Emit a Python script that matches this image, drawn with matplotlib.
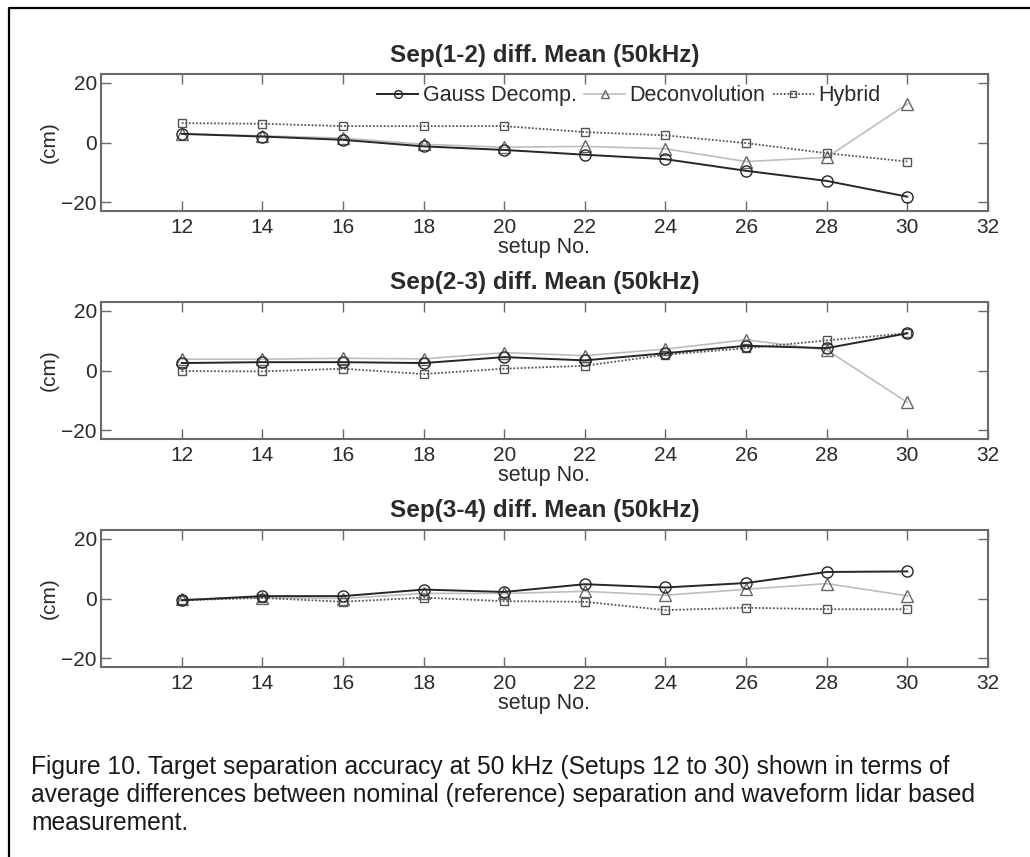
import matplotlib
matplotlib.use("Agg")
import matplotlib.pyplot as plt
from matplotlib.lines import Line2D

plt.rcParams['font.family'] = ['Liberation Sans', 'DejaVu Sans']

setups = [12, 14, 16, 18, 20, 22, 24, 26, 28, 30]
xtick_vals = [12, 14, 16, 18, 20, 22, 24, 26, 28, 30, 32]
ytick_vals = [-20, 0, 20]

titles = ["Sep(1-2) diff. Mean (50kHz)",
          "Sep(2-3) diff. Mean (50kHz)",
          "Sep(3-4) diff. Mean (50kHz)"]

gauss_12 = [2.9, 2.0, 0.9, -1.3, -2.5, -4.1, -5.6, -9.5, -12.9, -18.2]
deconv_12 = [2.9, 2.2, 1.5, -0.6, -1.6, -1.3, -2.1, -6.4, -5.0, 13.0]
hybrid_12 = [6.5, 6.3, 5.5, 5.5, 5.5, 3.5, 2.4, -0.2, -3.6, -6.4]

gauss_23 = [2.5, 2.8, 2.8, 2.5, 4.5, 3.4, 5.8, 8.3, 7.5, 12.5]
deconv_23 = [3.8, 3.8, 4.1, 3.9, 6.0, 5.0, 7.2, 10.3, 6.9, -10.7]
hybrid_23 = [-0.2, -0.3, 0.6, -1.2, 0.6, 1.6, 5.3, 7.5, 10.1, 12.5]

gauss_34 = [-0.6, 0.8, 0.8, 3.0, 2.2, 4.8, 3.7, 5.2, 8.9, 9.1]
deconv_34 = [-0.3, 0.3, 0.0, 1.7, 1.7, 2.4, 1.1, 3.1, 5.0, 0.9]
hybrid_34 = [-0.6, 0.2, -1.1, 0.3, -0.9, -1.1, -3.9, -3.1, -3.6, -3.6]

panels = [(gauss_12, deconv_12, hybrid_12),
          (gauss_23, deconv_23, hybrid_23),
          (gauss_34, deconv_34, hybrid_34)]

labels = ["Gauss Decomp.", "Deconvolution", "Hybrid"]

caption = ("Figure 10. Target separation accuracy at 50 kHz (Setups 12 to 30) shown in terms of\n"
           "average differences between nominal (reference) separation and waveform lidar based\n"
           "measurement.")

W, H = 1030, 857
fig = plt.figure(figsize=(W / 100, H / 100), dpi=100)

left = 101 / W
width = 887 / W
tops = [74, 302, 530]
ah = 137

spine_c = '#6a6a6a'
text_c = '#2a2a2a'

for i, (g, d, h) in enumerate(panels):
    top = tops[i]
    ax = fig.add_axes([left, 1 - (top + ah) / H, width, ah / H])
    ax.plot(setups, d, color='#bdbdbd', lw=1.2, marker='^', ms=8.5,
            mfc='none', mec='#666666', mew=1.0, label=labels[1], zorder=2)
    ax.plot(setups, h, color='#555555', lw=1.3, ls=(0, (1, 1)), marker='s', ms=6,
            mfc='none', mec='#555555', mew=1.0, label=labels[2], zorder=3)
    ax.plot(setups, g, color='#262626', lw=1.4, marker='o', ms=8,
            mfc='none', mec='#262626', mew=1.0, label=labels[0], zorder=4)
    ax.set_xlim(10, 32)
    ax.set_ylim(-23, 23)
    ax.set_xticks(xtick_vals)
    ax.set_yticks(ytick_vals)
    ax.set_yticklabels(['\u221220', '0', '20'])
    ax.tick_params(direction='in', length=7, width=1.0, color=spine_c,
                   top=True, right=True, labelsize=15, labelcolor=text_c)
    ax.tick_params(axis='x', pad=5)
    ax.tick_params(axis='y', pad=3)
    for s in ax.spines.values():
        s.set_color(spine_c)
        s.set_linewidth(1.5)
    ax.set_title(titles[i], fontsize=17.5, fontweight='bold', color=text_c, pad=9)
    ax.set_xlabel("setup No.", fontsize=15.5, color=text_c, labelpad=0)
    ax.set_ylabel("(cm)", fontsize=15, color=text_c, labelpad=2)
    if i == 0:
        handles, labs = ax.get_legend_handles_labels()
        order = [2, 0, 1]
        ax.legend([handles[k] for k in order], [labs[k] for k in order],
                  loc='center', bbox_to_anchor=(0.595, 0.84), ncol=3,
                  frameon=False, fontsize=15.5, handlelength=1.9,
                  handletextpad=0.2, columnspacing=0.35, markerscale=0.7,
                  labelcolor=text_c, borderpad=0.1)

fig.text(31 / W, 1 - 755 / H, caption, fontsize=17.7, color='#1a1a1a',
         va='top', ha='left', linespacing=1.22)

# page frame (left and top border)
fig.add_artist(Line2D([9 / W, 9 / W, 1.0], [0.0, 1 - 8 / H, 1 - 8 / H],
                      transform=fig.transFigure, color='black', lw=1.6))

fig.savefig("out.png", dpi=100)
